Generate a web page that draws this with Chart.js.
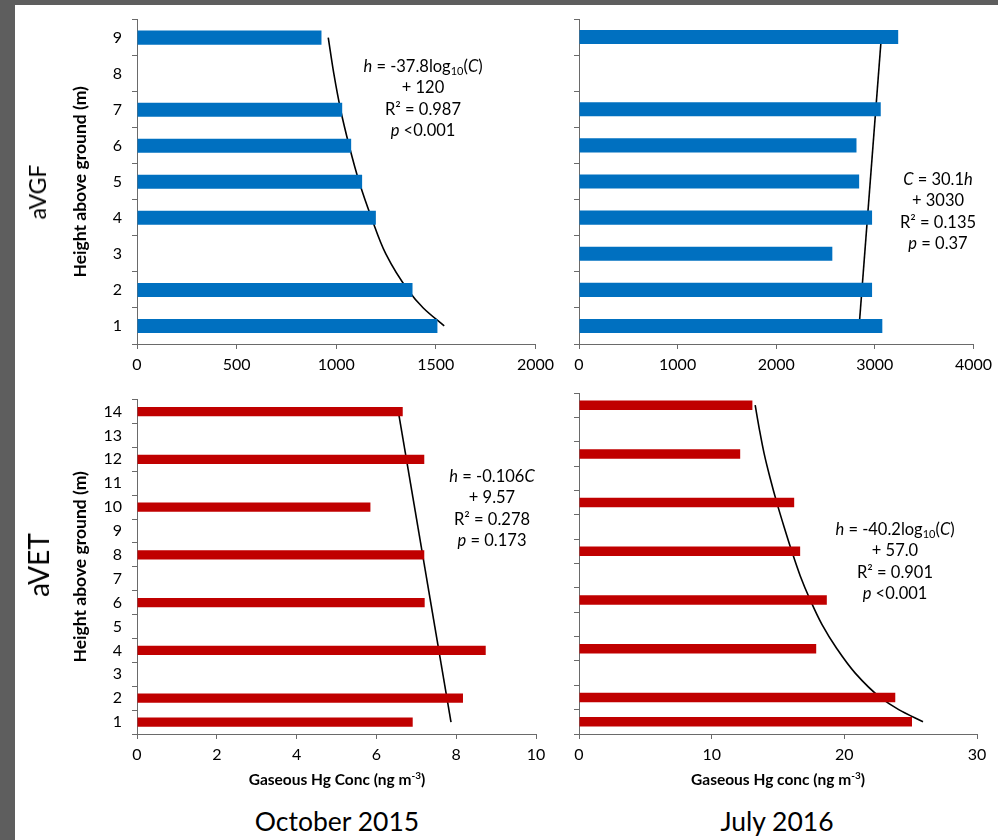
<!DOCTYPE html>
<html>
<head>
<meta charset="utf-8">
<script src="https://cdn.jsdelivr.net/npm/chart.js@4.4.1/dist/chart.umd.min.js"></script>
<style>
html,body{margin:0;padding:0;width:998px;height:840px;overflow:hidden;background:#5e5e5e;}
#page{position:absolute;left:15px;top:5px;width:983px;height:835px;background:#fff;}
canvas{position:absolute;}
.txt{position:absolute;font-family:Lato,sans-serif;color:#000;white-space:nowrap;}
.eq{text-align:center;font-size:16.5px;line-height:21.3px;transform:translateX(-50%);}
.eq sub{font-size:11px;vertical-align:-3px;line-height:0;}
.xt{font-weight:bold;font-size:15.5px;line-height:20px;transform:translateX(-50%);}
.xt sup{font-size:10px;vertical-align:6px;line-height:0;}
.big{font-size:26.5px;line-height:30px;transform:translateX(-50%);}
.rot{transform:translate(-50%,-50%) rotate(-90deg);}
</style>
</head>
<body>
<div id="page"></div>
<canvas id="cA"></canvas>
<canvas id="cB"></canvas>
<canvas id="cC"></canvas>
<canvas id="cD"></canvas>

<div class="txt rot" style="left:37px;top:192px;font-size:23px;">aVGF</div>
<div class="txt rot" style="left:38px;top:565px;font-size:28px;">aVET</div>

<div class="txt eq" style="left:423px;top:56px;"><i>h</i> = -37.8log<sub>10</sub>(<i>C</i>)<br>+ 120<br>R² = 0.987<br><i>p</i> &lt;0.001</div>
<div class="txt eq" style="left:938px;top:169px;"><i>C</i> = 30.1<i>h</i><br>+ 3030<br>R² = 0.135<br><i>p</i> = 0.37</div>
<div class="txt eq" style="left:492px;top:466px;"><i>h</i> = -0.106<i>C</i><br>+ 9.57<br>R² = 0.278<br><i>p</i> = 0.173</div>
<div class="txt eq" style="left:895px;top:519px;"><i>h</i> = -40.2log<sub>10</sub>(<i>C</i>)<br>+ 57.0<br>R² = 0.901<br><i>p</i> &lt;0.001</div>

<div class="txt xt" style="left:337px;top:769px;">Gaseous Hg Conc (ng m<sup>-3</sup>)</div>
<div class="txt xt" style="left:778px;top:769px;">Gaseous Hg conc (ng m<sup>-3</sup>)</div>

<div class="txt big" style="left:337px;top:806px;">October 2015</div>
<div class="txt big" style="left:777px;top:806px;">July 2016</div>

<script>
// ---------- data ----------
const heightsTop = ['1','2','3','4','5','6','7','8','9'];
const heightsBottom = ['1','2','3','4','5','6','7','8','9','10','11','12','13','14'];

const octAVGF = [1508, 1383, null, 1199, 1130, 1075, 1030, null, 926];
const julAVGF = [3076, 2972, 2569, 2972, 2841, 2814, 3060, null, 3237];
const octAVET = [6.91, 8.17, null, 8.74, null, 7.21, null, 7.20, null, 5.85, null, 7.20, null, 6.66];
const julAVET = [25.10, 23.84, null, 17.88, null, 18.68, null, 16.67, null, 16.22, null, 12.15, null, 13.07];

// fitted lines (height, concentration)
const fitOctAVGF_h = [1, 1.5, 2, 3, 4, 5, 6, 7, 8, 9];
const fitOctAVGF_C = [1542, 1437, 1360, 1249, 1177, 1115, 1065, 1022, 988, 960];
const fitJulAVGF_h = [1, 9];
const fitJulAVGF_C = [2841, 3066];
const fitOctAVET_h = [1, 14];
const fitOctAVET_C = [7.87, 6.55];
const fitJulAVET_h = [1, 1.5, 2, 3, 4, 5, 6, 7, 8, 9, 10, 11, 12, 13, 14];
const fitJulAVET_C = [25.93, 24.10, 22.71, 20.82, 19.44, 18.31, 17.43, 16.67, 16.04, 15.46, 14.91, 14.41, 13.96, 13.60, 13.28];

const xTicksTopLeft = [0, 500, 1000, 1500, 2000];
const xTicksTopRight = [0, 1000, 2000, 3000, 4000];
const xTicksBottomLeft = [0, 2, 4, 6, 8, 10];
const xTicksBottomRight = [0, 10, 20, 30];

const BLUE = '#0070C0', RED = '#C00000', AXIS = '#6a6a6a';

function panel(id, cfg) {
  const el = document.getElementById(id);
  el.width = cfg.width; el.height = cfg.height;
  el.style.left = cfg.left + 'px'; el.style.top = cfg.top + 'px';
  el.style.width = cfg.width + 'px'; el.style.height = cfg.height + 'px';
  const aL = cfg.area[0] - cfg.left, aT = cfg.area[1] - cfg.top;
  const aR = cfg.area[2] - cfg.left, aB = cfg.area[3] - cfg.top;
  const ticks = cfg.xticks;
  const tickFont = {family: 'Lato', size: 16};
  new Chart(el, {
    type: 'bar',
    data: {
      labels: cfg.labels,
      datasets: [
        {type: 'bar', data: cfg.values, backgroundColor: cfg.color, borderWidth: 0, grouped: false,
         barPercentage: 0.39, categoryPercentage: 1, xAxisID: 'x', yAxisID: 'y'},
        {type: 'line', data: cfg.fitH.map((h, i) => ({x: cfg.fitC[i], y: h})),
         xAxisID: 'x', yAxisID: 'yh', indexAxis: 'y', borderColor: '#000', borderWidth: 1.6,
         pointRadius: 0, fill: false, cubicInterpolationMode: 'monotone'}
      ]
    },
    options: {
      indexAxis: 'y', responsive: false, animation: false, events: [],
      plugins: {legend: {display: false}, tooltip: {enabled: false}},
      layout: {padding: {left: 0, top: aT, right: cfg.width - aR, bottom: 0}},
      scales: {
        x: {
          type: 'linear', position: 'bottom', min: ticks[0], max: ticks[ticks.length - 1], offset: false,
          afterBuildTicks: s => { s.ticks = ticks.map(v => ({value: v})); },
          ticks: {color: '#000', font: tickFont, padding: 6, maxRotation: 0, autoSkip: false,
                  callback: v => String(v)},
          grid: {drawOnChartArea: false, drawTicks: true, tickLength: 5, color: AXIS},
          border: {display: true, color: AXIS, width: 1},
          afterFit: s => { s.height = cfg.height - aB; }
        },
        y: {
          type: 'category', position: 'left', reverse: true, offset: true,
          ticks: {display: cfg.showY, autoSkip: false, color: '#000', font: tickFont, padding: 10},
          grid: {offset: true, drawOnChartArea: false, drawTicks: true, tickLength: 5, color: AXIS},
          border: {display: true, color: AXIS, width: 1},
          title: {display: cfg.showY, text: 'Height above ground (m)', color: '#000',
                  font: {family: 'Lato', size: 17.5, weight: 'bold'}, padding: {top: 70, bottom: 0}},
          afterFit: s => { s.width = aL; }
        },
        yh: {type: 'linear', display: false, offset: false, grace: 0,
             min: 0.5, max: cfg.labels.length + 0.5}
      }
    }
  });
}

function draw() {
  panel('cA', {left: 0, top: 0, width: 560, height: 392, area: [137, 19, 536, 344],
    labels: heightsTop, values: octAVGF, color: BLUE, fitH: fitOctAVGF_h, fitC: fitOctAVGF_C,
    xticks: xTicksTopLeft, showY: true});
  panel('cB', {left: 540, top: 0, width: 458, height: 392, area: [579, 19, 976, 344],
    labels: heightsTop, values: julAVGF, color: BLUE, fitH: fitJulAVGF_h, fitC: fitJulAVGF_C,
    xticks: xTicksTopRight, showY: false});
  panel('cC', {left: 0, top: 380, width: 560, height: 400, area: [137, 393, 536, 734],
    labels: heightsBottom, values: octAVET, color: RED, fitH: fitOctAVET_h, fitC: fitOctAVET_C,
    xticks: xTicksBottomLeft, showY: true});
  panel('cD', {left: 540, top: 380, width: 458, height: 400, area: [579, 393, 977, 734],
    labels: heightsBottom, values: julAVET, color: RED, fitH: fitJulAVET_h, fitC: fitJulAVET_C,
    xticks: xTicksBottomRight, showY: false});
}

Promise.all([
  document.fonts.load('16px Lato'),
  document.fonts.load('bold 16px Lato'),
  document.fonts.load('italic 16px Lato')
]).then(draw, draw);
</script>
</body>
</html>
